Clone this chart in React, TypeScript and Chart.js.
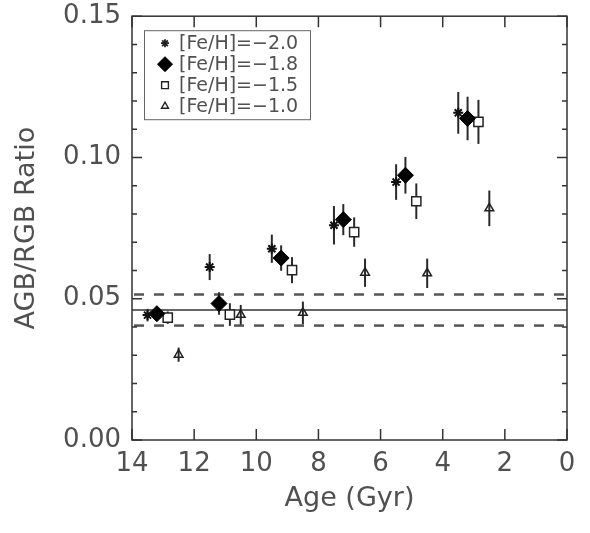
import React, { useEffect, useRef } from 'react';
import { Chart, registerables } from 'chart.js';
import { drawPoint } from 'chart.js/helpers';

Chart.register(...registerables);

// [Fe/H] = -2.0 (asterisks)
const starAge = [13.5, 11.5, 9.5, 7.5, 5.5, 3.5];
const starRatio = [0.0442, 0.0612, 0.0677, 0.0760, 0.0913, 0.1158];
const starErr = [0.0022, 0.0046, 0.0050, 0.0068, 0.0063, 0.0074];

// [Fe/H] = -1.8 (filled diamonds)
const diamondAge = [13.2, 11.2, 9.2, 7.2, 5.2, 3.2];
const diamondRatio = [0.0447, 0.0483, 0.0644, 0.0780, 0.0937, 0.1138];
const diamondErr = [0.0025, 0.0040, 0.0045, 0.0055, 0.0065, 0.0077];

// [Fe/H] = -1.5 (open squares)
const squareAge = [12.85, 10.85, 8.85, 6.85, 4.85, 2.85];
const squareRatio = [0.0433, 0.0444, 0.0601, 0.0736, 0.0845, 0.1126];
const squareErr = [0.0022, 0.0040, 0.0046, 0.0052, 0.0063, 0.0078];

// [Fe/H] = -1.0 (open triangles)
const triAge = [12.5, 10.5, 8.5, 6.5, 4.5, 2.5];
const triRatio = [0.0302, 0.0443, 0.0450, 0.0592, 0.0590, 0.0820];
const triErr = [0.0025, 0.0035, 0.0040, 0.0050, 0.0052, 0.0063];

const seriesLabels = ['[Fe/H]=\u22122.0', '[Fe/H]=\u22121.8', '[Fe/H]=\u22121.5', '[Fe/H]=\u22121.0'];

// reference level and its band
const refMean = 0.046;
const refLow = 0.0405;
const refHigh = 0.0515;

const xTickValues = [14, 12, 10, 8, 6, 4, 2, 0];
const yTickValues = [0.0, 0.05, 0.1, 0.15];
const yMinorTickValues = [0.01, 0.02, 0.03, 0.04, 0.06, 0.07, 0.08, 0.09, 0.11, 0.12, 0.13, 0.14];

const FONT = "'DejaVu Sans', sans-serif";
const TEXT = '#505050';
const INK = '#333';

const legendMarkers = [
  { style: 'star', radius: 4, fill: '#222', stroke: '#222', width: 1.8 },
  { style: 'rectRot', radius: 7.5, fill: '#000', stroke: '#000', width: 1 },
  { style: 'rect', radius: 4.8, fill: '#fff', stroke: '#222', width: 1.4 },
  { style: 'triangle', radius: 4, fill: 'rgba(0,0,0,0)', stroke: '#222', width: 1.4 },
];

const errorBarPlugin = {
  id: 'errorBars',
  beforeDatasetsDraw(chart: any) {
    const ctx = chart.ctx;
    const xs = chart.scales.x;
    const ys = chart.scales.y;
    ctx.save();
    ctx.strokeStyle = '#2a2a2a';
    ctx.lineWidth = 2;
    chart.data.datasets.forEach((ds: any) => {
      ds.data.forEach((p: any) => {
        const px = xs.getPixelForValue(p.x);
        ctx.beginPath();
        ctx.moveTo(px, ys.getPixelForValue(p.y + p.err));
        ctx.lineTo(px, ys.getPixelForValue(p.y - p.err));
        ctx.stroke();
      });
    });
    ctx.restore();
  },
};

const refLinesPlugin = {
  id: 'refLines',
  beforeDatasetsDraw(chart: any) {
    const ctx = chart.ctx;
    const { left, right } = chart.chartArea;
    const ys = chart.scales.y;
    ctx.save();
    ctx.strokeStyle = INK;
    ctx.lineWidth = 1.5;
    let y = ys.getPixelForValue(refMean);
    ctx.beginPath();
    ctx.moveTo(left, y);
    ctx.lineTo(right, y);
    ctx.stroke();
    ctx.lineWidth = 2.5;
    ctx.strokeStyle = '#555';
    ctx.setLineDash([10, 10]);
    [refLow, refHigh].forEach((v) => {
      y = ys.getPixelForValue(v);
      ctx.beginPath();
      ctx.moveTo(left + 2, y);
      ctx.lineTo(right, y);
      ctx.stroke();
    });
    ctx.restore();
  },
};

const framePlugin = {
  id: 'frame',
  afterDraw(chart: any) {
    const ctx = chart.ctx;
    const { left, right, top, bottom } = chart.chartArea;
    const xs = chart.scales.x;
    const ys = chart.scales.y;
    ctx.save();
    ctx.strokeStyle = INK;
    ctx.lineWidth = 1.5;
    ctx.strokeRect(left, top, right - left, bottom - top);
    ctx.beginPath();
    xTickValues.forEach((v) => {
      const px = xs.getPixelForValue(v);
      ctx.moveTo(px, bottom);
      ctx.lineTo(px, bottom - 11);
      ctx.moveTo(px, top);
      ctx.lineTo(px, top + 11);
    });
    yTickValues.forEach((v) => {
      const py = ys.getPixelForValue(v);
      ctx.moveTo(left, py);
      ctx.lineTo(left + 10, py);
      ctx.moveTo(right, py);
      ctx.lineTo(right - 10, py);
    });
    yMinorTickValues.forEach((v) => {
      const py = ys.getPixelForValue(v);
      ctx.moveTo(left, py);
      ctx.lineTo(left + 5, py);
      ctx.moveTo(right, py);
      ctx.lineTo(right - 5, py);
    });
    ctx.stroke();

    // legend box
    const bx = left + 12;
    const by = top + 14;
    const bw = 166;
    const bh = 89;
    ctx.fillStyle = '#fff';
    ctx.fillRect(bx, by, bw, bh);
    ctx.lineWidth = 1;
    ctx.strokeStyle = '#666';
    ctx.strokeRect(bx + 0.5, by + 0.5, bw, bh);
    ctx.font = `19px ${FONT}`;
    ctx.fillStyle = TEXT;
    ctx.textBaseline = 'middle';
    ctx.textAlign = 'left';
    seriesLabels.forEach((label, i) => {
      const ry = by + 13 + i * 21;
      const m = legendMarkers[i];
      ctx.save();
      ctx.fillStyle = m.fill;
      ctx.strokeStyle = m.stroke;
      ctx.lineWidth = m.width;
      drawPoint(ctx, { pointStyle: m.style, radius: m.radius, borderWidth: m.width, rotation: 0 } as any, bx + 21, ry);
      ctx.restore();
      ctx.fillText(label, bx + 35, ry + 1);
    });
    ctx.restore();
  },
};

function toPoints(ages: number[], vals: number[], errs: number[]) {
  return ages.map((a, i) => ({ x: a, y: vals[i], err: errs[i] }));
}

export default function App() {
  const canvasRef = useRef<HTMLCanvasElement | null>(null);

  useEffect(() => {
    document.body.style.margin = '0';
    const canvas = canvasRef.current;
    if (!canvas) return;
    Chart.defaults.font.family = FONT;
    Chart.defaults.color = TEXT;
    const chart = new Chart(canvas, {
      type: 'scatter',
      data: {
        datasets: [
          {
            label: seriesLabels[0],
            data: toPoints(starAge, starRatio, starErr),
            pointStyle: 'star',
            pointRadius: 5,
            borderColor: '#111',
            backgroundColor: '#111',
            borderWidth: 2,
          },
          {
            label: seriesLabels[1],
            data: toPoints(diamondAge, diamondRatio, diamondErr),
            pointStyle: 'rectRot',
            pointRadius: 8,
            borderColor: '#000',
            backgroundColor: '#000',
            borderWidth: 1,
          },
          {
            label: seriesLabels[2],
            data: toPoints(squareAge, squareRatio, squareErr),
            pointStyle: 'rect',
            pointRadius: 6.5,
            borderColor: '#222',
            backgroundColor: '#fff',
            borderWidth: 1.5,
          },
          {
            label: seriesLabels[3],
            data: toPoints(triAge, triRatio, triErr),
            pointStyle: 'triangle',
            pointRadius: 5,
            borderColor: '#222',
            backgroundColor: 'rgba(0,0,0,0)',
            borderWidth: 1.5,
          },
        ] as any,
      },
      options: {
        animation: false,
        responsive: true,
        maintainAspectRatio: false,
        layout: { padding: { top: 14, right: 23, left: 0, bottom: 0 } },
        plugins: {
          legend: { display: false },
          tooltip: { enabled: false },
        },
        scales: {
          x: {
            type: 'linear',
            min: 0,
            max: 14,
            reverse: true,
            grid: { display: false, drawTicks: false },
            border: { display: false },
            ticks: {
              stepSize: 2,
              padding: 9,
              color: TEXT,
              font: { size: 26, family: FONT },
              maxRotation: 0,
            },
            title: {
              display: true,
              text: 'Age (Gyr)',
              color: TEXT,
              font: { size: 27, family: FONT },
              padding: { top: 0, bottom: 18 },
            },
            afterFit(scale: any) {
              scale.height = 93;
            },
          },
          y: {
            type: 'linear',
            min: 0,
            max: 0.15,
            grid: { display: false, drawTicks: false },
            border: { display: false },
            ticks: {
              stepSize: 0.05,
              padding: 11,
              color: TEXT,
              font: { size: 26, family: FONT, lineHeight: 0.4 },
              callback: (v: any) => Number(v).toFixed(2),
            },
            title: {
              display: true,
              text: 'AGB/RGB Ratio',
              color: TEXT,
              font: { size: 27, family: FONT },
              padding: { top: 11, bottom: 0 },
            },
            afterFit(scale: any) {
              scale.width = 132;
            },
          },
        },
      },
      plugins: [refLinesPlugin, errorBarPlugin, framePlugin],
    });
    return () => chart.destroy();
  }, []);

  return (
    <div style={{ width: 590, height: 533, position: 'relative', background: '#fff' }}>
      <canvas ref={canvasRef} />
    </div>
  );
}
